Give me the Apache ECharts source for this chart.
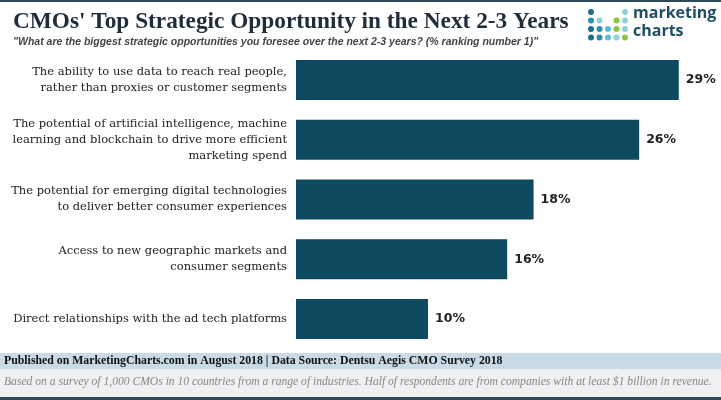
<!DOCTYPE html>
<html><head><meta charset="utf-8">
<script src="https://cdn.jsdelivr.net/npm/echarts@6/dist/echarts.min.js"></script>
<style>html,body{margin:0;padding:0;background:#fff}#c{width:721px;height:400px}</style>
</head><body><div id="c"></div>
<script>
const categories = [
  'The ability to use data to reach real people,\nrather than proxies or customer segments',
  'The potential of artificial intelligence, machine\nlearning and blockchain to drive more efficient\nmarketing spend',
  'The potential for emerging digital technologies\nto deliver better consumer experiences',
  'Access to new geographic markets and\nconsumer segments',
  'Direct relationships with the ad tech platforms'
];
const values = [29, 26, 18, 16, 10];

const dotColors = [
  ['#1d6f8a', null, null, null, '#8fd3d8'],
  ['#2a8fb0', '#8fd3d8', null, '#8cc63f', '#8fd3d8'],
  ['#1d6f8a', '#2a8fb0', '#5bbfc9', '#8cc63f', '#8fd3d8'],
  ['#1d6f8a', '#2a8fb0', '#5bbfc9', '#8fd3d8', '#8cc63f']
];
const dots = [];
dotColors.forEach((row, r) => row.forEach((col, c) => {
  if (col) dots.push({type: 'circle', shape: {cx: 591 + c * 8.5, cy: 12 + r * 8.5, r: 3}, style: {fill: col}});
}));

const chart = echarts.init(document.getElementById('c'));
chart.setOption({
  animation: false,
  title: [
    {text: "CMOs' Top Strategic Opportunity in the Next 2-3 Years", left: 8, top: 5,
     textStyle: {fontFamily: 'Liberation Serif', fontWeight: 'bold', fontSize: 23.3, color: '#1f2d3a'}},
    {text: '"What are the biggest strategic opportunities you foresee over the next 2-3 years? (% ranking number 1)"', left: 8, top: 32,
     textStyle: {fontFamily: 'Liberation Sans', fontStyle: 'italic', fontWeight: 'bold', fontSize: 10.5, color: '#444'}}
  ],
  graphic: [
    {type: 'rect', shape: {x: 0, y: 0, width: 721, height: 2}, style: {fill: '#2c4a5a'}},
    ...dots,
    {type: 'text', left: 633, top: 4, style: {text: 'marketing\ncharts', fill: '#1d4e63', font: 'bold 16px "Open Sans"', lineHeight: 18}},
    {type: 'rect', shape: {x: 0, y: 353, width: 721, height: 16}, style: {fill: '#c9dbe6'}},
    {type: 'rect', shape: {x: 0, y: 369, width: 721, height: 28}, style: {fill: '#eef0f1'}},
    {type: 'rect', shape: {x: 0, y: 397, width: 721, height: 3}, style: {fill: '#2c4a5a'}},
    {type: 'text', left: 4, top: 355, style: {text: 'Published on MarketingCharts.com in August 2018 | Data Source: Dentsu Aegis CMO Survey 2018', fill: '#111', font: 'bold 11.8px "Liberation Serif"'}},
    {type: 'text', left: 4, top: 376, style: {text: 'Based on a survey of 1,000 CMOs in 10 countries from a range of industries. Half of respondents are from companies with at least $1 billion in revenue.', fill: '#888', font: 'italic 11.6px "Liberation Serif"'}}
  ],
  grid: {left: 296, right: 0, top: 50, bottom: 51, containLabel: false},
  xAxis: {type: 'value', min: 0, max: 32.2, show: false},
  yAxis: {
    type: 'category', data: categories, inverse: true,
    axisLine: {show: false}, axisTick: {show: false},
    axisLabel: {fontFamily: 'DejaVu Serif', fontSize: 11.5, color: '#222', lineHeight: 16, align: 'right', margin: 9}
  },
  series: [{
    type: 'bar', data: values, barWidth: 40,
    itemStyle: {color: '#0e4a5f'},
    label: {show: true, position: 'right', formatter: '{c}%', distance: 7,
      fontFamily: 'DejaVu Sans', fontWeight: 'bold', fontSize: 12.5, color: '#222'}
  }]
});
</script></body></html>
